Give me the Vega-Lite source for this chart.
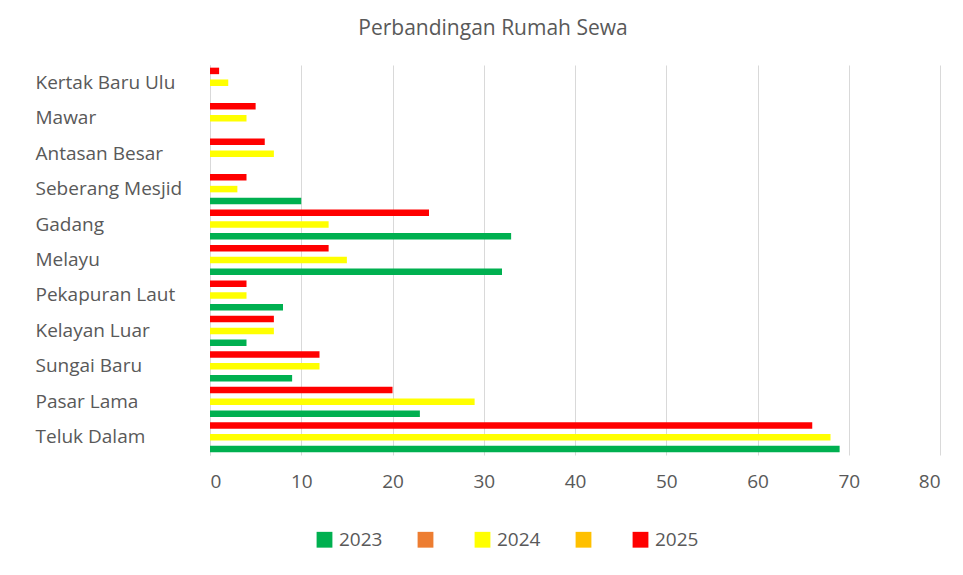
{
  "$schema": "https://vega.github.io/schema/vega-lite/v6.json",
  "width": 730,
  "height": 390,
  "autosize": "none",
  "padding": {"left": 210, "top": 65, "right": 23, "bottom": 120},
  "background": "white",
  "title": {
    "text": "Perbandingan Rumah Sewa",
    "font": "Open Sans",
    "fontSize": 21,
    "fontWeight": "normal",
    "color": "#595959",
    "offset": 26,
    "dx": -82
  },
  "data": {
    "values": [
      {"wilayah": "Kertak Baru Ulu", "tahun": "2023", "jumlah": 0},
      {"wilayah": "Kertak Baru Ulu", "tahun": "2024", "jumlah": 2},
      {"wilayah": "Kertak Baru Ulu", "tahun": "2025", "jumlah": 1},
      {"wilayah": "Mawar", "tahun": "2023", "jumlah": 0},
      {"wilayah": "Mawar", "tahun": "2024", "jumlah": 4},
      {"wilayah": "Mawar", "tahun": "2025", "jumlah": 5},
      {"wilayah": "Antasan Besar", "tahun": "2023", "jumlah": 0},
      {"wilayah": "Antasan Besar", "tahun": "2024", "jumlah": 7},
      {"wilayah": "Antasan Besar", "tahun": "2025", "jumlah": 6},
      {"wilayah": "Seberang Mesjid", "tahun": "2023", "jumlah": 10},
      {"wilayah": "Seberang Mesjid", "tahun": "2024", "jumlah": 3},
      {"wilayah": "Seberang Mesjid", "tahun": "2025", "jumlah": 4},
      {"wilayah": "Gadang", "tahun": "2023", "jumlah": 33},
      {"wilayah": "Gadang", "tahun": "2024", "jumlah": 13},
      {"wilayah": "Gadang", "tahun": "2025", "jumlah": 24},
      {"wilayah": "Melayu", "tahun": "2023", "jumlah": 32},
      {"wilayah": "Melayu", "tahun": "2024", "jumlah": 15},
      {"wilayah": "Melayu", "tahun": "2025", "jumlah": 13},
      {"wilayah": "Pekapuran Laut", "tahun": "2023", "jumlah": 8},
      {"wilayah": "Pekapuran Laut", "tahun": "2024", "jumlah": 4},
      {"wilayah": "Pekapuran Laut", "tahun": "2025", "jumlah": 4},
      {"wilayah": "Kelayan Luar", "tahun": "2023", "jumlah": 4},
      {"wilayah": "Kelayan Luar", "tahun": "2024", "jumlah": 7},
      {"wilayah": "Kelayan Luar", "tahun": "2025", "jumlah": 7},
      {"wilayah": "Sungai Baru", "tahun": "2023", "jumlah": 9},
      {"wilayah": "Sungai Baru", "tahun": "2024", "jumlah": 12},
      {"wilayah": "Sungai Baru", "tahun": "2025", "jumlah": 12},
      {"wilayah": "Pasar Lama", "tahun": "2023", "jumlah": 23},
      {"wilayah": "Pasar Lama", "tahun": "2024", "jumlah": 29},
      {"wilayah": "Pasar Lama", "tahun": "2025", "jumlah": 20},
      {"wilayah": "Teluk Dalam", "tahun": "2023", "jumlah": 69},
      {"wilayah": "Teluk Dalam", "tahun": "2024", "jumlah": 68},
      {"wilayah": "Teluk Dalam", "tahun": "2025", "jumlah": 66}
    ]
  },
  "mark": {"type": "bar"},
  "encoding": {
    "y": {
      "field": "wilayah",
      "type": "nominal",
      "sort": ["Kertak Baru Ulu", "Mawar", "Antasan Besar", "Seberang Mesjid", "Gadang", "Melayu", "Pekapuran Laut", "Kelayan Luar", "Sungai Baru", "Pasar Lama", "Teluk Dalam"],
      "scale": {"paddingInner": 0, "paddingOuter": 0},
      "axis": {
        "title": null,
        "ticks": false,
        "domain": true,
        "domainColor": "#D9D9D9",
        "labelAlign": "left",
        "labelPadding": 175,
        "labelFont": "Open Sans",
        "labelFontSize": 19,
        "labelColor": "#595959",
        "labelBaseline": "middle",
        "labelLimit": 200
      }
    },
    "yOffset": {
      "field": "tahun",
      "type": "nominal",
      "sort": ["2025", "2024", "2023"],
      "scale": {"paddingInner": 0.45, "paddingOuter": 0.225}
    },
    "x": {
      "field": "jumlah",
      "type": "quantitative",
      "scale": {"domain": [0, 80], "nice": false},
      "axis": {
        "title": null,
        "values": [0, 10, 20, 30, 40, 50, 60, 70, 80],
        "labelOverlap": false,
        "ticks": false,
        "domain": false,
        "grid": true,
        "gridColor": "#D9D9D9",
        "labelFont": "Open Sans",
        "labelFontSize": 19,
        "labelColor": "#595959",
        "labelPadding": 17
      }
    },
    "color": {
      "field": "tahun",
      "type": "nominal",
      "scale": {
        "domain": ["2023", " ", "2024", "  ", "2025"],
        "range": ["#00B050", "#ED7D31", "#FFFF00", "#FFC000", "#FF0000"]
      },
      "legend": {
        "title": null,
        "orient": "none",
        "legendX": 105,
        "legendY": 465,
        "direction": "horizontal",
        "columns": 5,
        "symbolType": "square",
        "symbolSize": 250,
        "symbolStrokeWidth": 0,
        "labelFont": "Open Sans",
        "labelFontSize": 19,
        "labelColor": "#595959",
        "columnPadding": 33,
        "labelOffset": 5
      }
    }
  },
  "config": {"view": {"stroke": null}}
}
